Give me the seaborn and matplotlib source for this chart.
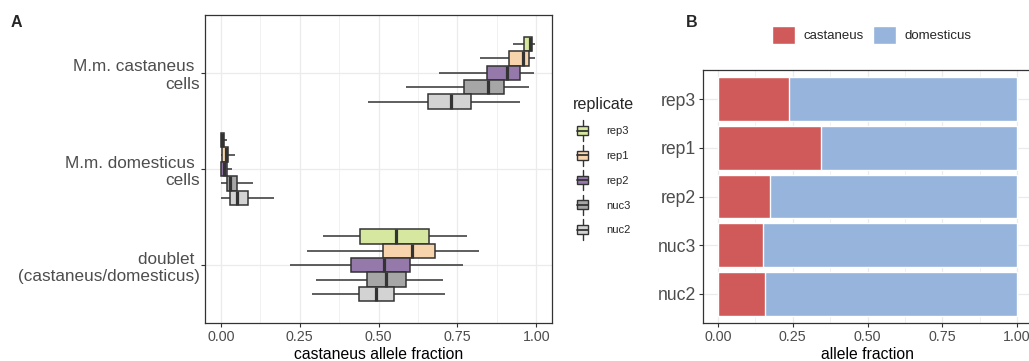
import numpy as np
import pandas as pd
import matplotlib
matplotlib.use("Agg")
import matplotlib.pyplot as plt
from matplotlib.legend_handler import HandlerBase
from matplotlib.patches import Rectangle, Patch
from matplotlib.lines import Line2D
from matplotlib.ticker import FixedLocator, StrMethodFormatter
import seaborn as sns

# ---------------- data ----------------
cell_types = ["M.m. castaneus \ncells", "M.m. domesticus \ncells",
              "doublet \n(castaneus/domesticus)"]
replicates = ["rep3", "rep1", "rep2", "nuc3", "nuc2"]
rep_colors = ["#d6e8a0", "#f7d4ab", "#9579aa", "#a6a6a6", "#d3d3d3"]

# five-number summaries per cell type: (min, q1, median, q3, max)
rep3_stats = [[0.925, 0.960, 0.979, 0.986, 0.997],
              [0.000, 0.000, 0.003, 0.010, 0.020],
              [0.323, 0.441, 0.555, 0.659, 0.780]]
rep1_stats = [[0.822, 0.913, 0.957, 0.976, 0.997],
              [0.000, 0.004, 0.017, 0.023, 0.044],
              [0.272, 0.514, 0.607, 0.680, 0.820]]
rep2_stats = [[0.692, 0.844, 0.907, 0.947, 0.993],
              [0.000, 0.002, 0.010, 0.019, 0.036],
              [0.221, 0.414, 0.517, 0.601, 0.767]]
nuc3_stats = [[0.586, 0.770, 0.847, 0.899, 0.977],
              [0.002, 0.019, 0.030, 0.053, 0.103],
              [0.303, 0.465, 0.524, 0.588, 0.705]]
nuc2_stats = [[0.467, 0.658, 0.731, 0.792, 0.948],
              [0.000, 0.030, 0.051, 0.087, 0.168],
              [0.289, 0.437, 0.492, 0.550, 0.711]]

bar_reps = ["rep3", "rep1", "rep2", "nuc3", "nuc2"]
castaneus_frac = [0.237, 0.344, 0.174, 0.152, 0.157]
domesticus_frac = [0.763, 0.656, 0.826, 0.848, 0.843]
allele_colors = {"castaneus": "#d05a59", "domesticus": "#96b4dc"}

x_ticks = [0.0, 0.25, 0.5, 0.75, 1.0]

# --------------- long table for the box plot ---------------
rows = []
for rep, stats in zip(replicates, [rep3_stats, rep1_stats, rep2_stats,
                                   nuc3_stats, nuc2_stats]):
    for cell, summary in zip(cell_types, stats):
        for v in summary:
            rows.append({"cell": cell, "replicate": rep, "fraction": v})
box_df = pd.DataFrame(rows)

# --------------- style ---------------
sns.set_theme(style="white")
plt.rcParams["font.family"] = ["Liberation Sans", "DejaVu Sans"]
DARK = "#333333"
TICKTXT = "#4d4d4d"
GRID = "#ebebeb"

fig = plt.figure(figsize=(10.29, 3.61), dpi=100)
W, H = 1029, 361


def px_axes(left, top, right, bottom):
    return fig.add_axes([left / W, 1 - bottom / H, (right - left) / W,
                         (bottom - top) / H])


def style_axes(ax):
    ax.set_axisbelow(True)
    for s in ax.spines.values():
        s.set_color(DARK)
        s.set_linewidth(0.9)
        s.set_visible(True)
    ax.xaxis.set_major_locator(FixedLocator(x_ticks))
    ax.xaxis.set_minor_locator(FixedLocator([0.125, 0.375, 0.625, 0.875]))
    ax.xaxis.set_major_formatter(StrMethodFormatter("{x:.2f}"))
    ax.grid(True, which="major", color=GRID, linewidth=0.9)
    ax.grid(True, which="minor", axis="x", color=GRID, linewidth=0.5)
    ax.tick_params(which="major", length=3, width=0.8, color=DARK,
                   direction="out", bottom=True, left=True)
    ax.tick_params(which="minor", length=0)
    ax.tick_params(axis="x", labelsize=10.3, labelcolor=TICKTXT, pad=2)


# --------------- panel A: box plot ---------------
axA = px_axes(205, 15, 552, 323)
sns.boxplot(data=box_df, x="fraction", y="cell", hue="replicate",
            order=cell_types, hue_order=replicates, palette=rep_colors,
            whis=(0, 100), width=0.75, saturation=1, linecolor=DARK,
            linewidth=1.1, showcaps=False, fliersize=0, legend=False,
            medianprops=dict(linewidth=2.3, color=DARK), ax=axA)
axA.set_xlim(-0.05, 1.05)
axA.set_ylim(2.6, -0.6)
style_axes(axA)
axA.tick_params(axis="y", labelsize=12.3, labelcolor=TICKTXT, pad=1)
axA.set_xlabel("castaneus allele fraction", fontsize=11.3, color="black",
               labelpad=2)
axA.set_ylabel("")


class BoxKeyHandler(HandlerBase):
    """Legend key drawn as a small upright box with whiskers (sizes in pt)."""

    BOX_W, BOX_H, WHISK = 8.2, 6.3, 7.4

    def create_artists(self, legend, orig_handle, xdescent, ydescent,
                       width, height, fontsize, trans):
        x0, y0 = -xdescent, -ydescent
        cx, cy = x0 + width / 2, y0 + height / 2
        fc = orig_handle.get_facecolor()
        bx, by = cx - self.BOX_W / 2, cy - self.BOX_H / 2
        box = Rectangle((bx, by), self.BOX_W, self.BOX_H, facecolor=fc,
                        edgecolor=DARK, linewidth=1.0, transform=trans)
        med = Line2D([bx, bx + self.BOX_W], [cy, cy], color=DARK,
                     linewidth=1.3, transform=trans)
        top = Line2D([cx, cx], [by + self.BOX_H, cy + self.WHISK], color=DARK,
                     linewidth=1.0, transform=trans)
        bot = Line2D([cx, cx], [cy - self.WHISK, by], color=DARK,
                     linewidth=1.0, transform=trans)
        return [top, bot, box, med]


rep_handles = [Patch(facecolor=c) for c in rep_colors]
fig.legend(rep_handles, replicates, title="replicate",
           loc="upper left", bbox_to_anchor=(567 / W, 1 - 91 / H),
           frameon=False, fontsize=8, title_fontsize=11.6, borderpad=0,
           handlelength=1.8, handleheight=1.0, labelspacing=1.26,
           handletextpad=1.26, alignment="left",
           handler_map={Patch: BoxKeyHandler()})

# --------------- panel B: stacked bars ---------------
axB = px_axes(703, 70, 1032, 323)
totals = [c + d for c, d in zip(castaneus_frac, domesticus_frac)]
sns.barplot(x=totals, y=bar_reps, orient="h", color=allele_colors["domesticus"],
            saturation=1, width=0.9, ax=axB)
sns.barplot(x=castaneus_frac, y=bar_reps, orient="h",
            color=allele_colors["castaneus"], saturation=1, width=0.9, ax=axB)
axB.set_xlim(-0.05, 1.05)
axB.set_ylim(4.6, -0.6)
style_axes(axB)
axB.tick_params(axis="y", labelsize=12.7, labelcolor=TICKTXT, pad=2)
axB.set_xlabel("allele fraction", fontsize=11.3, color="black", labelpad=2)
axB.set_ylabel("")

allele_handles = [Patch(facecolor=allele_colors["castaneus"]),
                  Patch(facecolor=allele_colors["domesticus"])]
fig.legend(allele_handles, ["castaneus", "domesticus"], ncol=2,
           loc="center", bbox_to_anchor=(872 / W, 1 - 35 / H), frameon=False,
           fontsize=9.5, handlelength=1.7, handleheight=1.7,
           handletextpad=0.7, columnspacing=0.7)

# --------------- panel tags ---------------
fig.text(11 / W, 1 - 22.5 / H, "A", fontsize=11.5, fontweight="bold",
         va="center", ha="left")
fig.text(686 / W, 1 - 22.5 / H, "B", fontsize=11.5, fontweight="bold",
         va="center", ha="left")

fig.savefig("out.png", dpi=100)
